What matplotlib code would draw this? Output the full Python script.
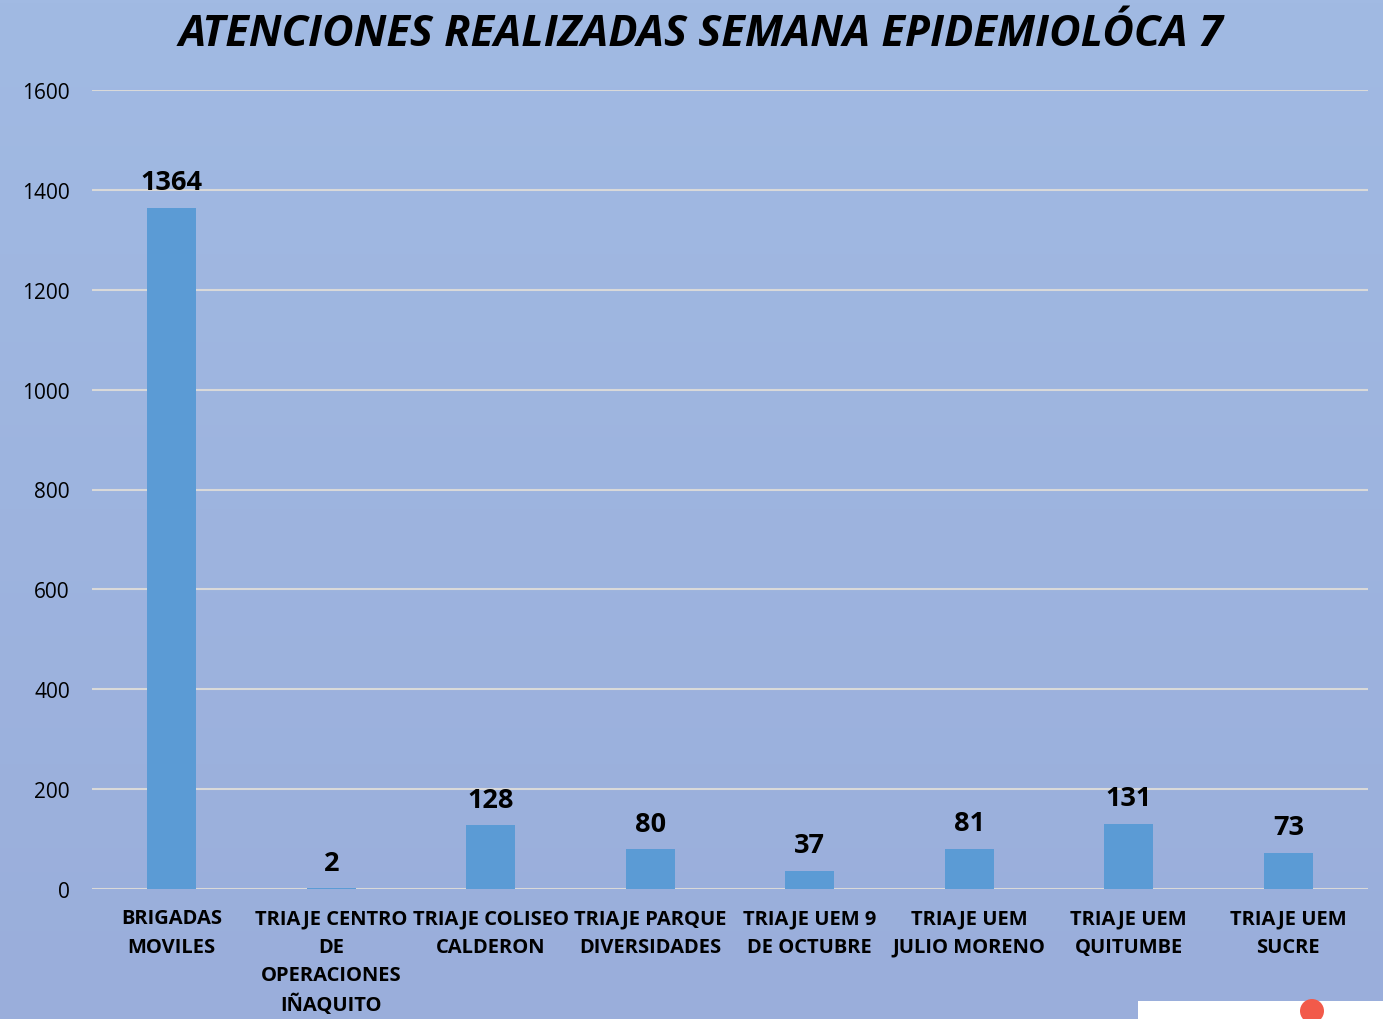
import matplotlib
matplotlib.use("Agg")
import matplotlib.pyplot as plt
import numpy as np
from matplotlib.patches import Rectangle, Circle

categories = ["BRIGADAS\nMOVILES", "TRIAJE CENTRO\nDE\nOPERACIONES\nIÑAQUITO",
              "TRIAJE COLISEO\nCALDERON", "TRIAJE PARQUE\nDIVERSIDADES",
              "TRIAJE UEM 9\nDE OCTUBRE", "TRIAJE UEM\nJULIO MORENO",
              "TRIAJE UEM\nQUITUMBE", "TRIAJE UEM\nSUCRE"]
values = [1364, 2, 128, 80, 37, 81, 131, 73]
yticks = [0, 200, 400, 600, 800, 1000, 1200, 1400, 1600]
title = "ATENCIONES REALIZADAS SEMANA EPIDEMIOLÓCA 7"

plt.rcParams['font.family'] = ['Open Sans', 'DejaVu Sans']

W, H = 1383, 1020
fig = plt.figure(figsize=(W/100, H/100), dpi=100)

# background gradient
bg = fig.add_axes([0, 0, 1, 1], zorder=-10)
top = np.array([0xa1, 0xba, 0xe3]) / 255
bot = np.array([0x9a, 0xae, 0xdb]) / 255
t = np.linspace(0, 1, 256)[:, None]
grad = top[None, :] * (1 - t) + bot[None, :] * t
bg.imshow(grad[:, None, :], aspect='auto', extent=[0, 1, 0, 1])
bg.set_axis_off()
bg.set_xlim(0, 1); bg.set_ylim(0, 1)
# decorative white box with red dot at bottom right (inches coordinates)
bg.add_patch(Rectangle((11.38, 0), 2.45, 0.18, transform=fig.dpi_scale_trans,
                       facecolor='white', edgecolor='none'))
bg.add_patch(Circle((13.12, 0.08), 0.12, transform=fig.dpi_scale_trans,
                    facecolor='#f25a4a', edgecolor='none'))

ax = fig.add_axes([92/W, 130/H, (1368-92)/W, (890-91)/H])
ax.patch.set_alpha(0)
x = np.arange(len(categories))
ax.bar(x, values, width=0.31, color='#5b9bd5', zorder=3)
ax.set_xlim(-0.5, len(categories) - 0.5)
ax.set_ylim(0, 1600)
ax.set_yticks(yticks)
ax.set_yticklabels([str(v) for v in yticks], fontsize=15)
ax.set_xticks(x)
ax.set_xticklabels(categories, fontsize=14.5, fontweight='bold', linespacing=1.55, va='top')
ax.tick_params(axis='both', length=0)
ax.tick_params(axis='y', pad=16)
ax.tick_params(axis='x', pad=14)
ax.grid(axis='y', color='#d9d9d9', linewidth=1.5, zorder=0)
for s in ax.spines.values():
    s.set_visible(False)

for xi, v in zip(x, values):
    ax.annotate(str(v), (xi, v), xytext=(0, 9), textcoords='offset points',
                ha='center', va='bottom', fontsize=19.5, fontweight='bold')

fig.text(701/W, 1 - 34/H, title, ha='center', va='center', fontsize=31.2,
         fontweight='bold', fontstyle='italic')

fig.savefig("out.png", dpi=100)
